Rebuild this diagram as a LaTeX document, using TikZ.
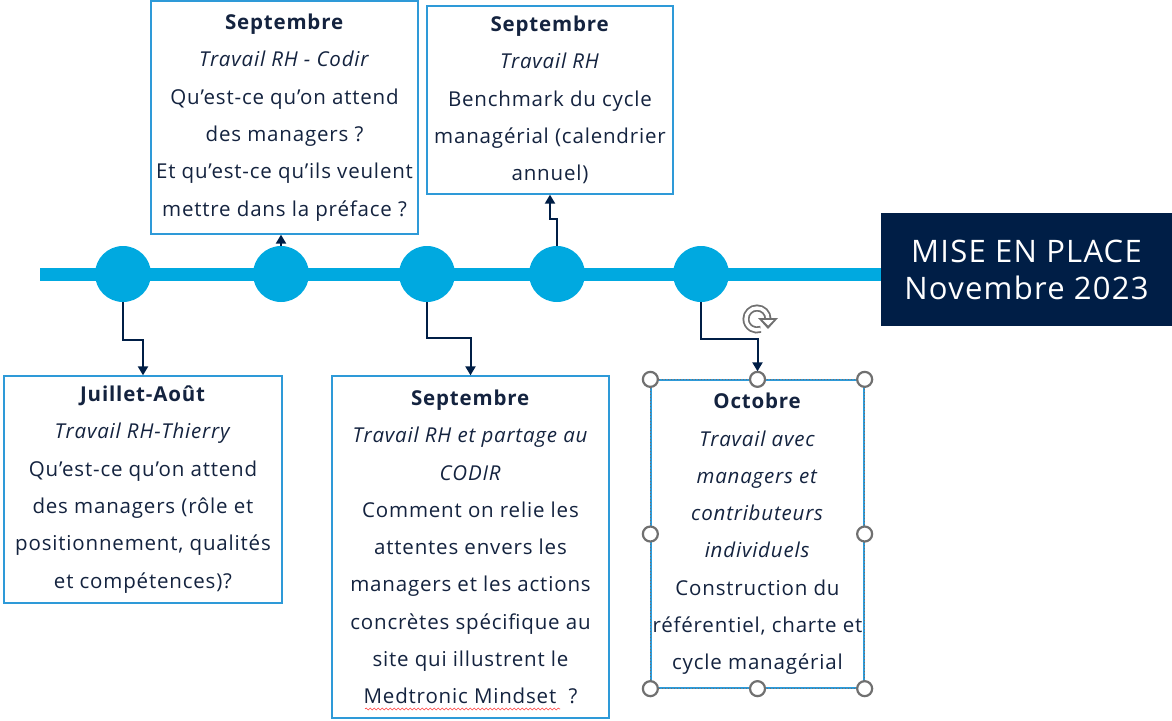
\documentclass[tikz,border=0pt]{standalone}
\usepackage{fontspec}
\setmainfont{Open Sans}[LetterSpace=4]
\usetikzlibrary{arrows.meta,positioning,decorations.pathmorphing}
\definecolor{cyanmdt}{HTML}{00A9E0}
\definecolor{navy}{HTML}{001E46}
\definecolor{cadre}{HTML}{2E9AD8}
\definecolor{txt}{HTML}{14233F}
\definecolor{handle}{HTML}{707070}

\begin{document}
\begin{tikzpicture}[x=1pt,y=-1pt,
    jalon/.style={circle,fill=cyanmdt,minimum size=56pt,inner sep=0pt},
    etape/.style={draw=cadre,line width=1.3pt,fill=white,align=center,text=txt,inner sep=0pt,
        font=\fontsize{20.5}{37.3}\selectfont},
    fleche/.style={draw=navy,line width=2pt,-{Triangle[length=9pt,width=10pt]}},
    poignee/.style={circle,draw=handle,line width=2.2pt,fill=white,minimum size=15pt,inner sep=0pt}]
    \useasboundingbox (0,0) rectangle (1172,720);
    % end box and timeline
    \node[fill=navy,minimum width=291pt,minimum height=113pt,text=white,align=center,
        font=\fontsize{31}{37}\selectfont] (fin) at (1026.5,269.5) {MISE EN PLACE\\Novembre 2023};
    \coordinate (debut) at (40,274);
    \draw[cyanmdt,line width=13pt] (debut) -- (debut -| fin.west);
    \node[jalon] (j1) at (123,274) {};
    \node[jalon] (j2) at (281,274) {};
    \node[jalon] (j3) at (427,274) {};
    \node[jalon] (j4) at (557,274) {};
    \node[jalon] (j5) at (701,274) {};
    % steps
    \node[etape,minimum width=278pt,minimum height=227pt] (jul) at (143,489.5)
        {\textbf{Juillet-Août}\\ \textit{Travail RH-Thierry}\\ Qu’est-ce qu’on attend\\
         des managers (rôle et\\ positionnement, qualités\\ et compétences)?};
    \node[etape,minimum width=267pt,minimum height=233pt] (sep1) at (284.5,117.5)
        {\textbf{Septembre}\\ \textit{Travail RH - Codir}\\ Qu’est-ce qu’on attend\\
         des managers ?\\ Et qu’est-ce qu’ils veulent\\ mettre dans la préface ?};
    \node[etape,minimum width=246pt,minimum height=188pt] (sep2) at (550,100)
        {\textbf{Septembre}\\ \textit{Travail RH}\\ Benchmark du cycle\\
         managérial (calendrier\\ annuel)};
    \node[etape,minimum width=277pt,minimum height=342pt] (sep3) at (470.5,547)
        {\textbf{Septembre}\\ \textit{Travail RH et partage au}\\ \textit{CODIR}\\
         Comment on relie les\\ attentes envers les\\ managers et les actions\\
         concrètes spécifique au\\ site qui illustrent le\\ Medtronic Mindset ~?};
    \node[etape,minimum width=213pt,minimum height=308pt] (oct) at (757.5,534)
        {\textbf{Octobre}\\ \textit{Travail avec}\\ \textit{managers et}\\
         \textit{contributeurs}\\ \textit{individuels}\\ Construction du\\
         référentiel, charte et\\ cycle managérial};
    % links
    \draw[fleche] (j1.south) -- ++(0,38) -| (jul.north);
    \draw[fleche] (j2.north) -- (j2.north |- sep1.south);
    \draw[fleche] (j3.south) -- ++(0,36) -| (sep3.north);
    \draw[fleche] (j4.north) -- ++(0,-27) -| (sep2.south);
    \draw[fleche] (j5.south) -- ++(0,37) -| ([yshift=8pt]oct.north);
    % selection frame
    \draw[handle,dotted,line width=1pt] (oct.north west) rectangle (oct.south east);
    \foreach \a in {north west,north,north east,west,east,south west,south,south east}
        \node[poignee] at (oct.\a) {};
    \coordinate (rot) at (757,319);
    \draw[handle,line width=1.8pt,double=white,double distance=3.4pt]
        ([shift={(0:11)}]rot) arc[start angle=0,end angle=-290,radius=11];
    \fill[handle] ([shift={(1,-1)}]rot) -- ([shift={(21,-1)}]rot) -- ([shift={(11,10)}]rot) -- cycle;
    \fill[white] ([shift={(5.5,1)}]rot) -- ([shift={(16.5,1)}]rot) -- ([shift={(11,6.5)}]rot) -- cycle;
    % spelling mark
    \draw[red!75,line width=0.6pt,decorate,decoration={snake,amplitude=1pt,segment length=4pt}]
        (365,709) -- (560,709);
\end{tikzpicture}
\end{document}
